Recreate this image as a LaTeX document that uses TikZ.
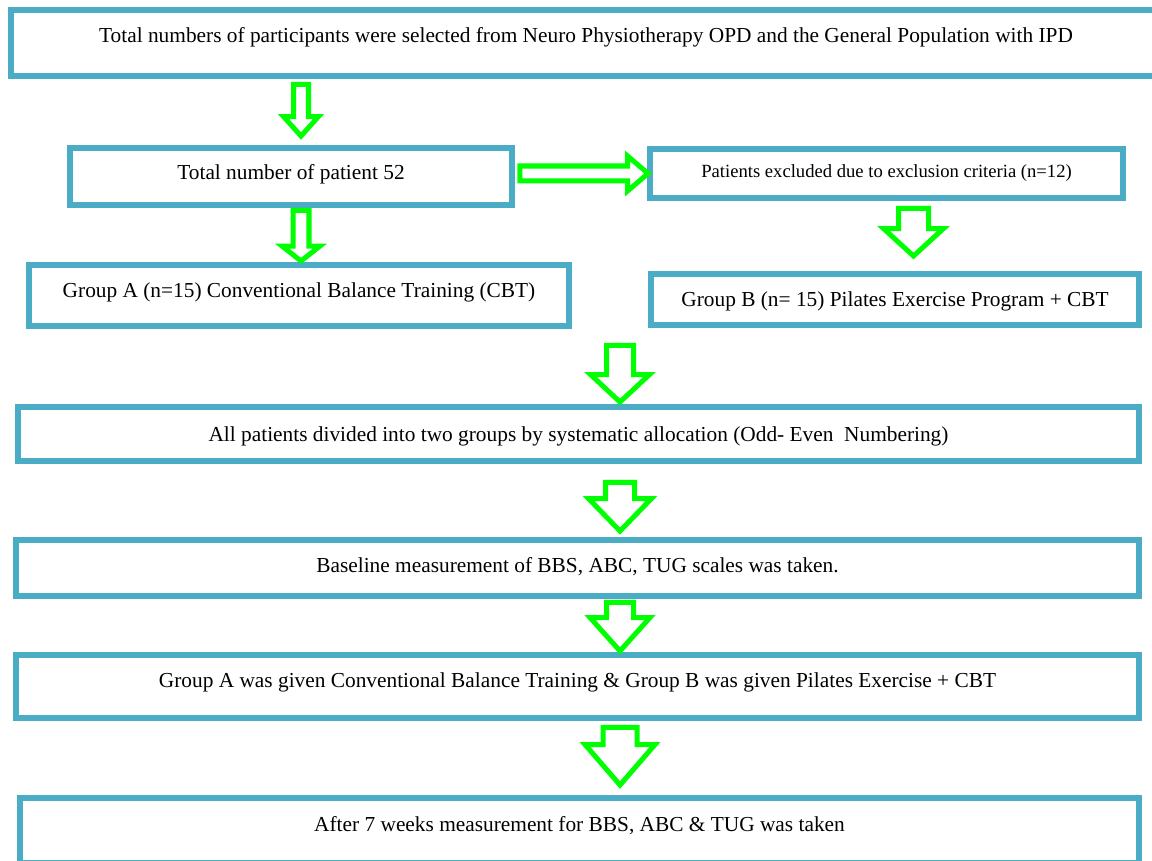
\documentclass[tikz,border=0pt]{standalone}
\usepackage{fontspec}
\setmainfont{Liberation Serif}
\usetikzlibrary{calc}

\definecolor{boxblue}{RGB}{75,172,198}
\definecolor{arrowgreen}{RGB}{0,255,0}
\def\pxl{0.569pt}

% hollow block arrows: start, tip, shaft half width, head half width, head length (px)
\newcommand{\hollowdown}[5]{%
  \draw[hollow] let \p1=#1, \p2=#2 in
    (\x2-#3*\pxl,\y1) -- (\x2+#3*\pxl,\y1) -- (\x2+#3*\pxl,\y2+#5*\pxl)
    -- (\x2+#4*\pxl,\y2+#5*\pxl) -- (\x2,\y2) -- (\x2-#4*\pxl,\y2+#5*\pxl)
    -- (\x2-#3*\pxl,\y2+#5*\pxl) -- cycle;}
\newcommand{\hollowright}[5]{%
  \draw[hollow] let \p1=#1, \p2=#2 in
    (\x1,\y2+#3*\pxl) -- (\x2-#5*\pxl,\y2+#3*\pxl) -- (\x2-#5*\pxl,\y2+#4*\pxl)
    -- (\x2,\y2) -- (\x2-#5*\pxl,\y2-#4*\pxl) -- (\x2-#5*\pxl,\y2-#3*\pxl)
    -- (\x1,\y2-#3*\pxl) -- cycle;}

\begin{document}
\begin{tikzpicture}[x=0.02cm, y=-0.02cm,
  box/.style={draw=boxblue, line width=3.4pt, inner sep=0pt, fill=white,
              font=\fontsize{12.15}{14}\selectfont},
  small/.style={font=\fontsize{10.6}{13}\selectfont},
  textdrop/.style={text depth=3pt, text height={3pt+#1*1.138pt}},
  hollow/.style={draw=arrowgreen, line width=2.85pt, fill=white},
]
\useasboundingbox (0,0) rectangle (1152,861);

\node[box, textdrop=0, minimum width=23cm, minimum height=1.32cm] (top) at (586,43)
  {Total numbers of participants were selected from Neuro Physiotherapy OPD and the General Population with IPD};
\node[box, textdrop=3.5, minimum width=8.84cm, minimum height=1.14cm] (pat) at (291,176.5)
  {Total number of patient 52};
\node[box, small, textdrop=4.5, minimum width=9.46cm, minimum height=0.98cm] (excl) at (886.5,173.5)
  {Patients excluded due to exclusion criteria (n=12)};
\node[box, textdrop=2.5, minimum width=10.8cm, minimum height=1.22cm] (grpA) at (299,295.5)
  {Group A (n=15) Conventional Balance Training (CBT)};
\node[box, textdrop=7.5, minimum width=9.76cm, minimum height=1.02cm] (grpB) at (895,299.5)
  {Group B (n= 15) Pilates Exercise Program + CBT};
\node[box, textdrop=8, minimum width=22.42cm, minimum height=1.08cm] (alloc) at (578.5,434)
  {All patients divided into two groups by systematic allocation (Odd- Even\ \ Numbering)};
\node[box, textdrop=4, minimum width=22.46cm, minimum height=1.12cm] (base) at (577.5,568)
  {Baseline measurement of BBS, ABC, TUG scales was taken.};
\node[box, textdrop=0.5, minimum width=22.46cm, minimum height=1.26cm] (given) at (577.5,686.5)
  {Group A was given Conventional Balance Training \& Group B was given Pilates Exercise + CBT};
\node[box, textdrop=0.5, minimum width=22.38cm, minimum height=1.3cm] (after) at (579.5,830.5)
  {After 7 weeks measurement for BBS, ABC \& TUG was taken};

% arrow columns
\coordinate (lcol) at (301,0);
\coordinate (mcol) at (620,0);
\coordinate (rcol) at (913.5,0);

\hollowdown{($(top.south -| lcol)+(0,5.5)$)}{($(pat.north -| lcol)+(0,-9)$)}{7.5}{17.5}{19.5}
\hollowdown{($(pat.south -| lcol)+(0,2.5)$)}{($(grpA.north -| lcol)+(0,-1)$)}{8}{19}{15}
\hollowright{($(pat.east)+(5,0)$)}{($(excl.west)+(1,0)$)}{7.5}{17.5}{20.5}
\hollowdown{($(excl.south -| rcol)+(0,7.5)$)}{($(grpB.north -| rcol)+(0,-15)$)}{15}{30}{27.5}
\hollowdown{($(grpB.south -| mcol)+(0,17.5)$)}{($(alloc.north -| mcol)+(0,-2)$)}{13.5}{29.5}{27.5}
\hollowdown{($(alloc.south -| mcol)+(0,18.5)$)}{($(base.north -| mcol)+(0,-6)$)}{14.5}{31.5}{32.5}
\hollowdown{($(base.south -| mcol)+(0,3.5)$)}{($(given.north -| mcol)+(0,-1)$)}{13.5}{30}{33.5}
\hollowdown{($(given.south -| mcol)+(0,6.5)$)}{($(after.north -| mcol)+(0,-10)$)}{17}{35}{40.5}

\end{tikzpicture}
\end{document}
